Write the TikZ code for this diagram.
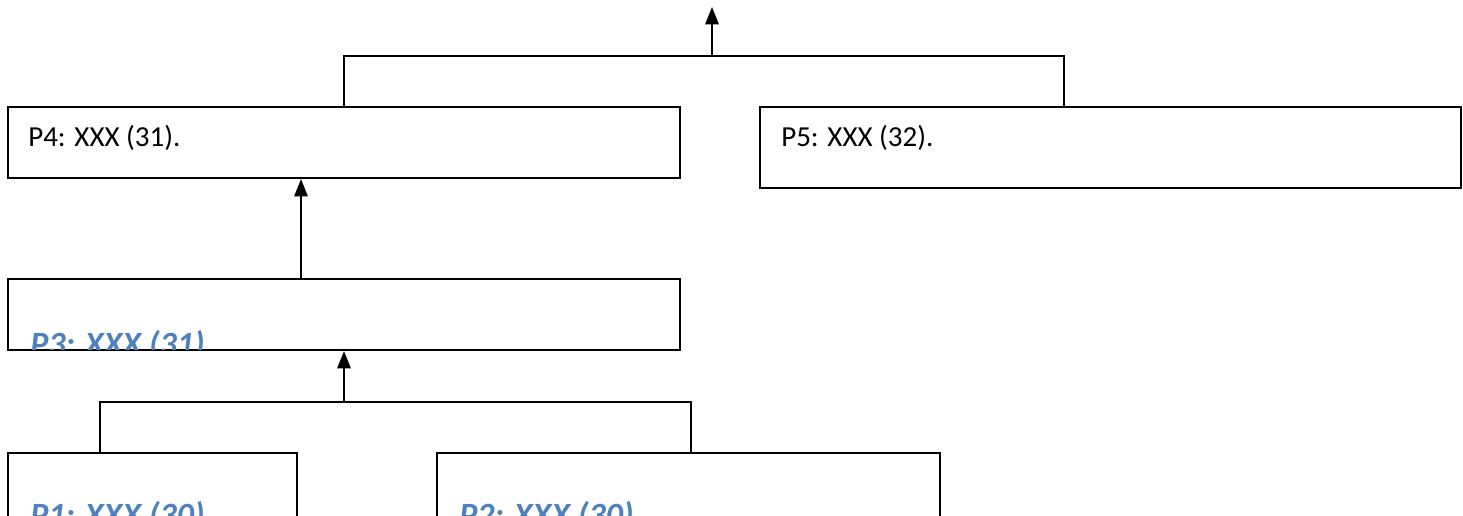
\documentclass[tikz,border=0pt]{standalone}
\usepackage{fontspec}
\setmainfont{Carlito}
\usetikzlibrary{arrows.meta,calc}
\definecolor{headblue}{HTML}{4F81BD}
\tikzset{
  box/.style={draw=black, line width=1.6pt, fill=none, rectangle, inner sep=0pt},
  link/.style={draw=black, line width=1.5pt},
  arr/.style={link, -{Triangle[width=10pt,length=13pt]}},
  plain/.style={anchor=base west, inner sep=0pt, font=\fontsize{21.75}{26}\selectfont},
  head/.style={anchor=base west, inner sep=0pt, text=headblue, font=\fontsize{25.5}{30}\selectfont\bfseries\itshape},
}
\begin{document}
\begin{tikzpicture}[x=0.75pt, y=-0.75pt]
\useasboundingbox (0,0) rectangle (1463,515);
\clip (0,0) rectangle (1463,515);
% boxes
\node[box, minimum width=672*0.75pt, minimum height=71*0.75pt] (p4) at (344,142.5) {};
\node[box, minimum width=701*0.75pt, minimum height=81*0.75pt] (p5) at (1110.5,147.5) {};
\node[box, minimum width=672*0.75pt, minimum height=71*0.75pt] (p3) at (344,314.5) {};
\node[box, minimum width=289*0.75pt, minimum height=107*0.75pt] (p1) at (152.5,506.5) {};
\node[box, minimum width=503*0.75pt, minimum height=107*0.75pt] (p2) at (688.5,506.5) {};
% texts
\node[plain] (t4) at (28,146) {P4: XXX (31).};
\node[plain] (t5) at (781,146) {P5: XXX (32).};
\begin{scope}
  \clip ($(p3.north west)+(2,2)$) rectangle ($(p3.south east)+(-2,-2)$);
  \node[head] (t3) at (30,355) {P3: XXX (31)};
\end{scope}
\node[head] (t1) at (30,526) {P1: XXX (30)};
\node[head] (t2) at (459,526) {P2: XXX (30)};
% connectors
\coordinate (u5) at (1064,107);
\coordinate (topbus) at (712,56);
\coordinate (out) at (712,7);
\draw[link] (p4.north) |- (topbus) -| (u5);
\draw[arr] (topbus) -- (out);
\coordinate (m34) at (301,230);
\draw[arr] (p3.north -| m34) -- (p4.south -| m34);
\coordinate (b1) at (100,453);
\coordinate (b2) at (691,453);
\coordinate (lowbus) at (344,402);
\draw[link] (b1) |- (lowbus) -| (b2);
\draw[arr] (lowbus) -- (p3.south);
\end{tikzpicture}
\end{document}
